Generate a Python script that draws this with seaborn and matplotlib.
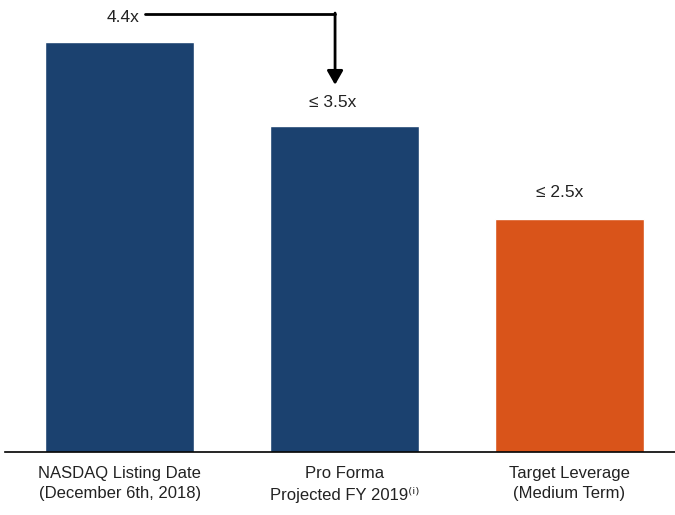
import matplotlib
matplotlib.use("Agg")
import matplotlib.pyplot as plt
import seaborn as sns
import pandas as pd

categories = ["NASDAQ Listing Date\n(December 6th, 2018)",
              "Pro Forma\nProjected FY 2019\u207d\u2071\u207e",
              "Target Leverage\n(Medium Term)"]
values = [4.4, 3.5, 2.5]
labels = ["4.4x", "\u2264 3.5x", "\u2264 2.5x"]
colors = ["#1B416F", "#1B416F", "#D9541A"]

sns.set_theme(style="white")
plt.rcParams['font.family'] = ['Liberation Sans Narrow', 'Liberation Sans', 'DejaVu Sans']

df = pd.DataFrame({"cat": categories, "val": values})

fig = plt.figure(figsize=(6.75, 5.15), dpi=100)
ax = fig.add_axes([5/675, (515-452)/515, 1 - 5/675, 452/515])
sns.barplot(data=df, x="cat", y="val", hue="cat", palette=colors, width=0.662,
            saturation=1, legend=False, ax=ax)
ax.set_xlim(-0.51, 2.47)
ax.set_ylim(0, 4.85)
ax.set_xlabel("")
ax.set_ylabel("")
ax.set_yticks([])
for s in ["top", "right", "left"]:
    ax.spines[s].set_visible(False)
ax.spines["bottom"].set_color("black")
ax.spines["bottom"].set_linewidth(1.2)
ax.tick_params(axis="x", length=0, pad=10, labelsize=12, colors="#222222")
for t in ax.get_xticklabels():
    t.set_linespacing(1.45)

# value labels
ax.text(0.016, 4.66, labels[0], ha="center", va="center", fontsize=12.5, color="#222222")
ax.text(0.949, 3.755, labels[1], ha="center", va="center", fontsize=12.5, color="#222222")
ax.text(1.958, 2.78, labels[2], ha="center", va="center", fontsize=12.5, color="#222222")

# connector arrow
ax.plot([0.113, 0.958], [4.70, 4.70], color="black", lw=2)
ax.annotate("", xy=(0.958, 3.94), xytext=(0.958, 4.71),
            arrowprops=dict(arrowstyle="-|>,head_width=0.4,head_length=0.7",
                            color="black", lw=2, shrinkA=0, shrinkB=0))

fig.savefig("out.png", dpi=100)
